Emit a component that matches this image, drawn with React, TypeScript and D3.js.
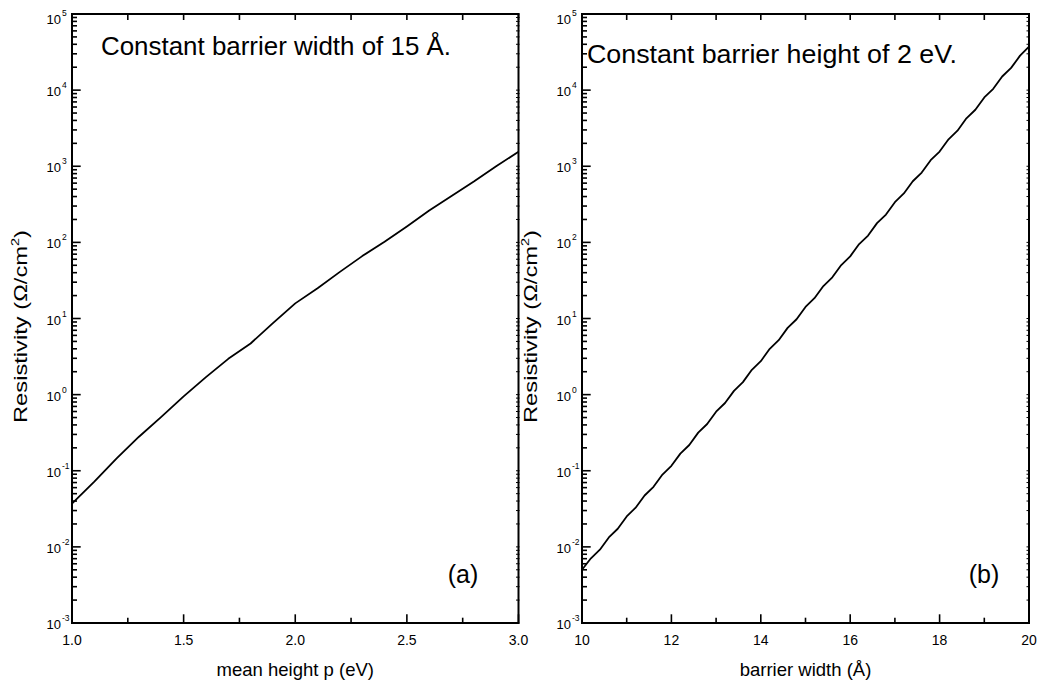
import React from "react";
import * as d3 from "d3";

// ---------- data ----------
const heightEV = [1.0, 1.1, 1.2, 1.3, 1.4, 1.5, 1.6, 1.7, 1.8, 1.9, 2.0, 2.1, 2.2, 2.3, 2.4, 2.5, 2.6, 2.7, 2.8, 2.9, 3.0];
const resistA = [0.037, 0.072, 0.145, 0.28, 0.51, 0.95, 1.7, 2.95, 4.7, 8.7, 15.8, 25, 41, 66, 102, 162, 263, 407, 630, 1000, 1550];

const widthA = [
  10.0, 10.2, 10.4, 10.6, 10.8, 11.0, 11.2, 11.4, 11.6, 11.8,
  12.0, 12.2, 12.4, 12.6, 12.8, 13.0, 13.2, 13.4, 13.6, 13.8,
  14.0, 14.2, 14.4, 14.6, 14.8, 15.0, 15.2, 15.4, 15.6, 15.8,
  16.0, 16.2, 16.4, 16.6, 16.8, 17.0, 17.2, 17.4, 17.6, 17.8,
  18.0, 18.2, 18.4, 18.6, 18.8, 19.0, 19.2, 19.4, 19.6, 19.8, 20.0,
];
const resistB = [
  0.00501, 0.00708, 0.00918, 0.0133, 0.0173, 0.0251, 0.0327, 0.0473, 0.0615, 0.0891,
  0.116, 0.168, 0.218, 0.317, 0.411, 0.597, 0.776, 1.12, 1.46, 2.12,
  2.75, 4.0, 5.19, 7.53, 9.77, 14.2, 18.5, 26.7, 34.8, 50.4,
  65.5, 95.1, 123, 179, 232, 337, 439, 635, 826, 1200,
  1560, 2260, 2930, 4260, 5520, 8020, 10400, 15100, 19600, 28400, 37200,
];

const yExponents = [-3, -2, -1, 0, 1, 2, 3, 4, 5];
const leftXMajor = [1.0, 1.5, 2.0, 2.5, 3.0];
const leftXMinor = [1.25, 1.75, 2.25, 2.75];
const rightXMajor = [10, 12, 14, 16, 18, 20];
const rightXMinor = [11, 13, 15, 17, 19];

const FONT = "'Liberation Sans', Arial, Helvetica, sans-serif";

const TOP = 14;
const BOTTOM = 623;

type PanelProps = {
  x0: number;
  x1: number;
  domain: [number, number];
  xs: number[];
  ys: number[];
  major: number[];
  minor: number[];
  fmt: (v: number) => string;
  xLabel: string;
  title: string;
  titleX: number;
  titleY: number;
  titleLen: number;
  tag: string;
  tagX: number;
};

function Panel(p: PanelProps) {
  const x = d3.scaleLinear().domain(p.domain).range([p.x0, p.x1]);
  const y = d3.scaleLog().domain([1e-3, 1e5]).range([BOTTOM, TOP]);
  const line = d3
    .line<number>()
    .x((_, i) => x(p.xs[i]))
    .y((d) => y(d));
  const yTicks = y.ticks();
  const isMajor = (v: number) => Math.abs(Math.log10(v) - Math.round(Math.log10(v))) < 1e-6;
  const allX = [...p.major, ...p.minor];
  const cx = (p.x0 + p.x1) / 2;
  return (
    <g>
      <path d={line(p.ys) || ""} fill="none" stroke="#000" strokeWidth={1.8} strokeLinejoin="round" />
      <rect x={p.x0} y={TOP} width={p.x1 - p.x0} height={BOTTOM - TOP} fill="none" stroke="#000" strokeWidth={2} />
      {yTicks.map((v, i) => (
        <line key={"yl" + i} x1={p.x0} x2={p.x0 + (isMajor(v) ? 8.7 : 5)} y1={y(v)} y2={y(v)} stroke="#000" strokeWidth={1.6} />
      ))}
      {yTicks.map((v, i) => (
        <line key={"yr" + i} x1={p.x1 - 2.5} x2={p.x1 + 1} y1={y(v)} y2={y(v)} stroke="#000" strokeWidth={1} />
      ))}
      {p.major.map((v, i) => (
        <line key={"xb" + i} x1={x(v)} x2={x(v)} y1={BOTTOM} y2={BOTTOM - 8.7} stroke="#000" strokeWidth={1.6} />
      ))}
      {p.minor.map((v, i) => (
        <line key={"xbm" + i} x1={x(v)} x2={x(v)} y1={BOTTOM} y2={BOTTOM - 5.3} stroke="#000" strokeWidth={1.6} />
      ))}
      {allX.map((v, i) => (
        <line key={"xt" + i} x1={x(v)} x2={x(v)} y1={TOP} y2={TOP + 6} stroke="#000" strokeWidth={1.6} />
      ))}
      {yExponents.map((e) => {
        const ty = y(Math.pow(10, e));
        const base = e === 5 ? ty + 9.5 : ty + 6;
        return (
          <g key={"ylab" + e} fontFamily={FONT} fill="#000">
            <text x={p.x0 - 11} y={base} fontSize={13} textAnchor="end">10</text>
            <text x={p.x0 - 10} y={base - 8} fontSize={8.5} textAnchor="start">{String(e)}</text>
          </g>
        );
      })}
      {p.major.map((v, i) => (
        <text key={"xl" + i} x={x(v)} y={BOTTOM + 22} fontSize={14} textAnchor="middle" fontFamily={FONT}>
          {p.fmt(v)}
        </text>
      ))}
      <text x={cx} y={676} fontSize={18.5} textAnchor="middle" fontFamily={FONT}>
        {p.xLabel}
      </text>
      <text
        transform={`translate(${p.x0 - 45},326.5) rotate(-90)`}
        fontSize={18}
        textAnchor="middle"
        fontFamily={FONT}
        textLength={193}
        lengthAdjust="spacingAndGlyphs"
      >
        Resistivity (Ω/cm<tspan fontSize={11} dy={-8}>2</tspan><tspan dy={8}>)</tspan>
      </text>
      <text x={p.titleX} y={p.titleY} fontSize={26} fontFamily={FONT} textLength={p.titleLen} lengthAdjust="spacingAndGlyphs">
        {p.title}
      </text>
      <text x={p.tagX} y={583} fontSize={25} textAnchor="middle" fontFamily={FONT}>
        {p.tag}
      </text>
    </g>
  );
}

export default function App() {
  return (
    <svg width={1040} height={686} style={{ position: "absolute", left: 0, top: 0, background: "#fff" }}>
      <rect x={0} y={0} width={1040} height={686} fill="#fff" />
      <Panel
        x0={72}
        x1={518.5}
        domain={[1, 3]}
        xs={heightEV}
        ys={resistA}
        major={leftXMajor}
        minor={leftXMinor}
        fmt={(v) => v.toFixed(1)}
        xLabel="mean height p (eV)"
        title="Constant barrier width of 15 Å."
        titleX={101}
        titleY={55}
        titleLen={350}
        tag="(a)"
        tagX={463}
      />
      <Panel
        x0={582}
        x1={1029}
        domain={[10, 20]}
        xs={widthA}
        ys={resistB}
        major={rightXMajor}
        minor={rightXMinor}
        fmt={(v) => String(v)}
        xLabel="barrier width (Å)"
        title="Constant barrier height of 2 eV."
        titleX={587}
        titleY={63}
        titleLen={370}
        tag="(b)"
        tagX={984}
      />
    </svg>
  );
}
